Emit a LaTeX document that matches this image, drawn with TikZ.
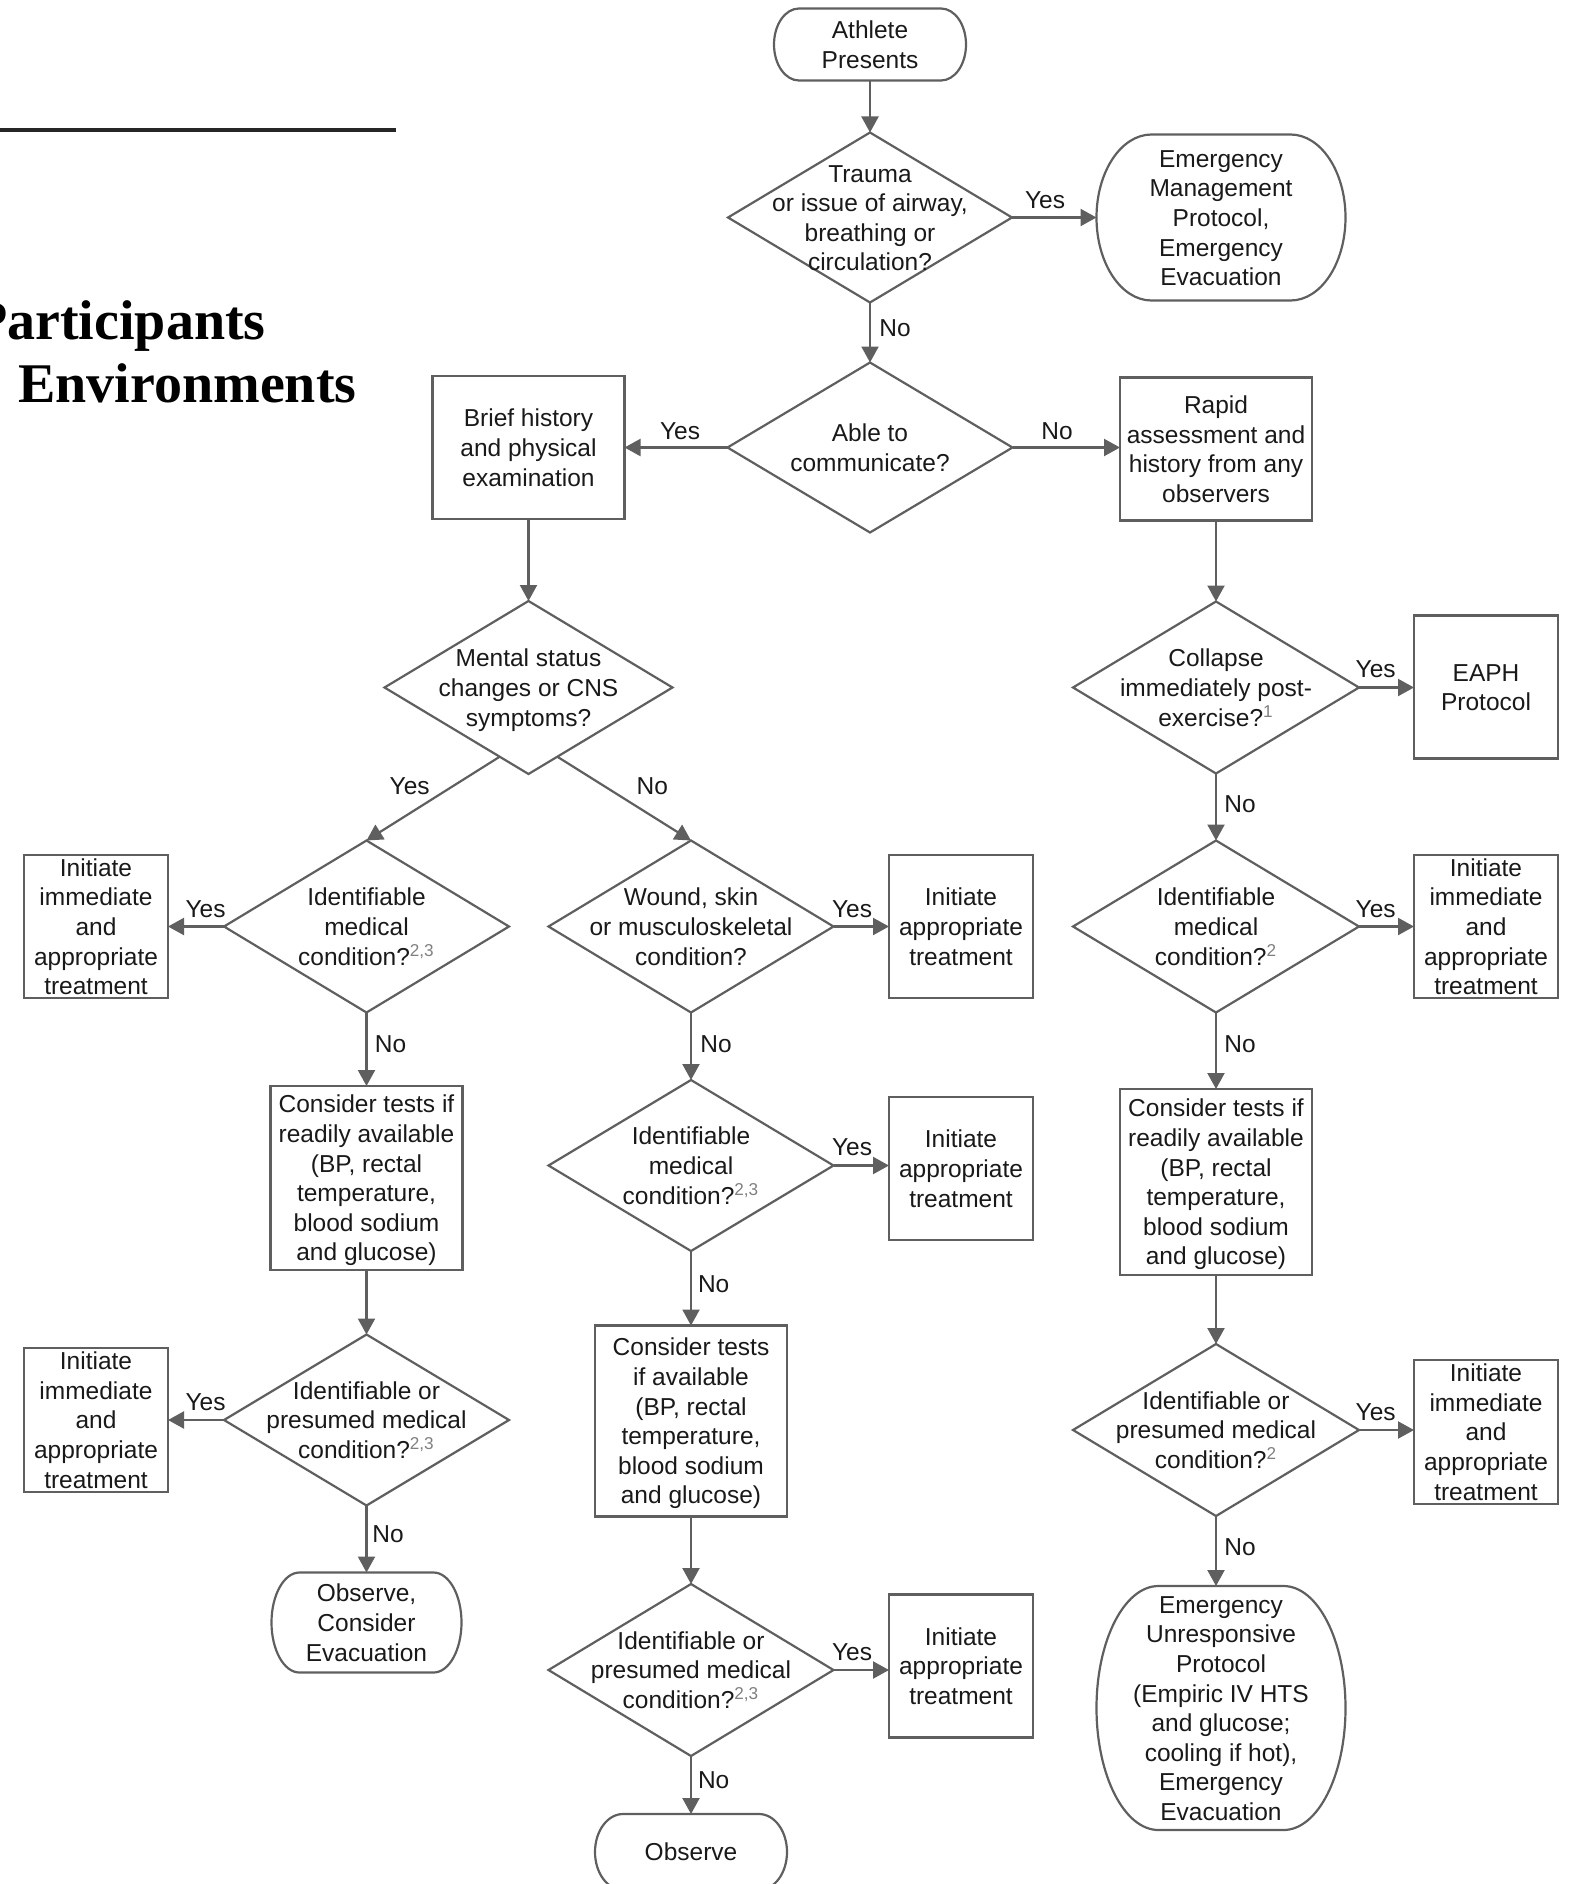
\documentclass[tikz,border=0pt]{standalone}
\usepackage{fontspec}
\newfontfamily\sansf{Liberation Sans}
\newfontfamily\serff{Liberation Serif}
\usetikzlibrary{shapes.geometric,arrows.meta,calc}
\definecolor{lc}{RGB}{95,95,95}
\definecolor{tc}{RGB}{25,25,25}
\newcommand\bodyfont{\sansf\fontsize{12.25}{14.8}\selectfont}
\newcommand\T[1]{\smash{\makebox[0pt]{\raisebox{-4.5pt}{\begin{tabular}{@{}c@{}}#1\end{tabular}}}}}
\newcommand\fnum[1]{\textsuperscript{\textcolor{gray}{#1}}}
\newcommand\termoutline[3]{%
  \draw[outl] ($(#1.north west)+(#2,0)$) -- ($(#1.north east)+(-#2,0)$)
    arc[start angle=90,end angle=-90,x radius=#2,y radius=#3]
    -- ($(#1.south west)+(#2,0)$)
    arc[start angle=270,end angle=90,x radius=#2,y radius=#3] -- cycle;}
\begin{document}
\begin{tikzpicture}[x=0.5pt,y=0.5pt,
  base/.style={font=\bodyfont,text=tc,inner sep=0pt,outer sep=0pt},
  box/.style={base,rectangle,draw=lc,line width=1.1pt},
  dec/.style={base,diamond,draw=lc,line width=1.1pt},
  term/.style={base,rectangle},
  outl/.style={draw=lc,line width=1.1pt},
  arr/.style={draw=lc,line width=1.1pt,-{Triangle[length=8pt,width=8.5pt]}},
  lab/.style={font=\bodyfont,text=tc,inner sep=0pt},
  ttl/.style={inner sep=0pt,text=black,font=\serff\bfseries\fontsize{28}{32}\selectfont}]
\useasboundingbox (0,0) rectangle (1574,-1884);
\clip (0,0) rectangle (1574,-1884);

% title fragments
\draw[line width=1.8pt,black!85] (0,-130) -- (396,-130);
\node[ttl,anchor=base east] (t1) at (266,-339) {Participants};
\node[ttl,anchor=base west] (t2) at (18,-402) {Environments};

% top
\node[term,minimum width=96pt,minimum height=36pt] (athlete) at (870,-44.5) {\T{Athlete\\Presents}};
\termoutline{athlete}{25}{36}
\node[dec,minimum width=142pt,minimum height=85pt] (trauma) at (870,-217.5) {\T{Trauma\\or issue of airway,\\breathing or\\circulation?}};
\node[term,minimum width=124.5pt,minimum height=83pt] (emg) at (1221,-217.5) {\T{Emergency\\Management\\Protocol,\\Emergency\\Evacuation}};
\termoutline{emg}{55}{83}
\node[dec,minimum width=142.5pt,minimum height=85pt] (able) at (870,-447.5) {\T{Able to\\communicate?}};
\node[box,minimum width=96pt,minimum height=71.5pt] (brief) at (528.5,-447.5) {\T{Brief history\\and physical\\examination}};
\node[box,minimum width=96pt,minimum height=71.5pt] (rapid) at (1216,-449) {\T{Rapid\\assessment and\\history from any\\observers}};

% second level
\node[dec,minimum width=144pt,minimum height=86.5pt] (mental) at (528.5,-687.5) {\T{Mental status\\changes or CNS\\symptoms?}};
\node[dec,minimum width=143pt,minimum height=86pt] (collapse) at (1216,-687.5) {\T{Collapse\\immediately post-\\exercise?\fnum{1}}};
\node[box,minimum width=72pt,minimum height=71.5pt] (eaph) at (1486,-687) {\T{EAPH\\Protocol}};

% row 926
\node[dec,minimum width=142.5pt,minimum height=86pt] (identL) at (366.5,-926.5) {\T{Identifiable\\medical\\condition?\fnum{2,3}}};
\node[box,minimum width=72pt,minimum height=71.5pt] (initL1) at (96,-926.5) {\T{Initiate\\immediate\\and\\appropriate\\treatment}};
\node[dec,minimum width=142.5pt,minimum height=86pt] (wound) at (691,-926.5) {\T{Wound, skin\\or musculoskeletal\\condition?}};
\node[box,minimum width=72pt,minimum height=71.5pt] (initM1) at (961,-926.5) {\T{Initiate\\appropriate\\treatment}};
\node[dec,minimum width=143pt,minimum height=86pt] (identR) at (1216,-926.5) {\T{Identifiable\\medical\\condition?\fnum{2}}};
\node[box,minimum width=72pt,minimum height=71.5pt] (initR1) at (1486,-926.5) {\T{Initiate\\immediate\\and\\appropriate\\treatment}};

% row ~1170
\node[box,minimum width=96pt,minimum height=92pt] (considerL) at (366.5,-1178) {\T{Consider tests if\\readily available\\(BP, rectal\\temperature,\\blood sodium\\and glucose)}};
\node[dec,minimum width=142.5pt,minimum height=85.5pt] (identM) at (691,-1165.5) {\T{Identifiable\\medical\\condition?\fnum{2,3}}};
\node[box,minimum width=72pt,minimum height=71.5pt] (initM2) at (961,-1168.5) {\T{Initiate\\appropriate\\treatment}};
\node[box,minimum width=96pt,minimum height=93pt] (considerR) at (1216,-1182) {\T{Consider tests if\\readily available\\(BP, rectal\\temperature,\\blood sodium\\and glucose)}};

% row ~1420
\node[dec,minimum width=142.5pt,minimum height=85.5pt] (identPL) at (366.5,-1420) {\T{Identifiable or\\presumed medical\\condition?\fnum{2,3}}};
\node[box,minimum width=72pt,minimum height=72pt] (initL2) at (96,-1420) {\T{Initiate\\immediate\\and\\appropriate\\treatment}};
\node[box,minimum width=96pt,minimum height=95.5pt] (considerM) at (691,-1421) {\T{Consider tests\\if available\\(BP, rectal\\temperature,\\blood sodium\\and glucose)}};
\node[dec,minimum width=143pt,minimum height=86pt] (identPR) at (1216,-1430) {\T{Identifiable or\\presumed medical\\condition?\fnum{2}}};
\node[box,minimum width=72pt,minimum height=72pt] (initR2) at (1486,-1432) {\T{Initiate\\immediate\\and\\appropriate\\treatment}};

% bottom
\node[term,minimum width=95pt,minimum height=50pt] (obsce) at (366.5,-1622.5) {\T{Observe,\\Consider\\Evacuation}};
\termoutline{obsce}{28}{50}
\node[dec,minimum width=142.5pt,minimum height=86pt] (identPM) at (691,-1670) {\T{Identifiable or\\presumed medical\\condition?\fnum{2,3}}};
\node[box,minimum width=72pt,minimum height=71.5pt] (initM3) at (961,-1666) {\T{Initiate\\appropriate\\treatment}};
\node[term,minimum width=96pt,minimum height=38pt] (obs) at (691,-1852) {\T{Observe}};
\termoutline{obs}{28}{38}
\node[term,minimum width=124.5pt,minimum height=122pt] (eup) at (1221,-1708) {\T{Emergency\\Unresponsive\\Protocol\\(Empiric IV HTS\\and glucose;\\cooling if hot),\\Emergency\\Evacuation}};
\termoutline{eup}{62}{122}

% connectors
\draw[arr] (athlete.south) -- (trauma.north);
\draw[arr] (trauma.east) -- (trauma.east -| emg.west);
\draw[arr] (trauma.south) -- (able.north);
\draw[arr] (able.west) -- (able.west -| brief.east);
\draw[arr] (able.east) -- (able.east -| rapid.west);
\draw[arr] (brief.south) -- (mental.north);
\draw[arr] (rapid.south) -- (collapse.north);
\draw[arr] ($(mental.west)!0.8!(mental.south)$) -- (identL.north);
\draw[arr] ($(mental.east)!0.8!(mental.south)$) -- (wound.north);
\draw[arr] (collapse.east) -- (collapse.east -| eaph.west);
\draw[arr] (collapse.south) -- (identR.north);
\draw[arr] (identL.west) -- (identL.west -| initL1.east);
\draw[arr] (identL.south) -- (considerL.north);
\draw[arr] (considerL.south) -- (identPL.north);
\draw[arr] (identPL.west) -- (identPL.west -| initL2.east);
\draw[arr] (identPL.south) -- (obsce.north);
\draw[arr] (wound.east) -- (wound.east -| initM1.west);
\draw[arr] (wound.south) -- (identM.north);
\draw[arr] (identM.east) -- (identM.east -| initM2.west);
\draw[arr] (identM.south) -- (considerM.north);
\draw[arr] (considerM.south) -- (identPM.north);
\draw[arr] (identPM.east) -- (identPM.east -| initM3.west);
\draw[arr] (identPM.south) -- (obs.north);
\draw[arr] (identR.east) -- (identR.east -| initR1.west);
\draw[arr] (identR.south) -- (considerR.north);
\draw[arr] (considerR.south) -- (identPR.north);
\draw[arr] (identPR.east) -- (identPR.east -| initR2.west);
\draw[arr] (identPR.south) -- (identPR.south |- eup.north);

% labels
\node[lab] (l1) at (1045,-200.6) {Yes};
\node[lab] (l2) at (895,-328) {No};
\node[lab] (l3) at (680,-431) {Yes};
\node[lab] (l4) at (1057,-431) {No};
\node[lab] (l5) at (409.7,-785.8) {Yes};
\node[lab] (l6) at (652.4,-785.8) {No};
\node[lab] (l7) at (205.5,-909.5) {Yes};
\node[lab] (l8) at (390.5,-1044) {No};
\node[lab] (l9) at (205.5,-1402) {Yes};
\node[lab] (l10) at (388,-1534) {No};
\node[lab] (l11) at (852,-909.5) {Yes};
\node[lab] (l12) at (716,-1044) {No};
\node[lab] (l13) at (852,-1147.4) {Yes};
\node[lab] (l14) at (713.7,-1284.4) {No};
\node[lab] (l15) at (852,-1652) {Yes};
\node[lab] (l16) at (713.7,-1780.6) {No};
\node[lab] (l17) at (1375.7,-669) {Yes};
\node[lab] (l18) at (1240,-803.8) {No};
\node[lab] (l19) at (1375.7,-909.5) {Yes};
\node[lab] (l20) at (1240,-1044) {No};
\node[lab] (l21) at (1375.7,-1411.8) {Yes};
\node[lab] (l22) at (1240,-1547.5) {No};
\end{tikzpicture}
\end{document}
